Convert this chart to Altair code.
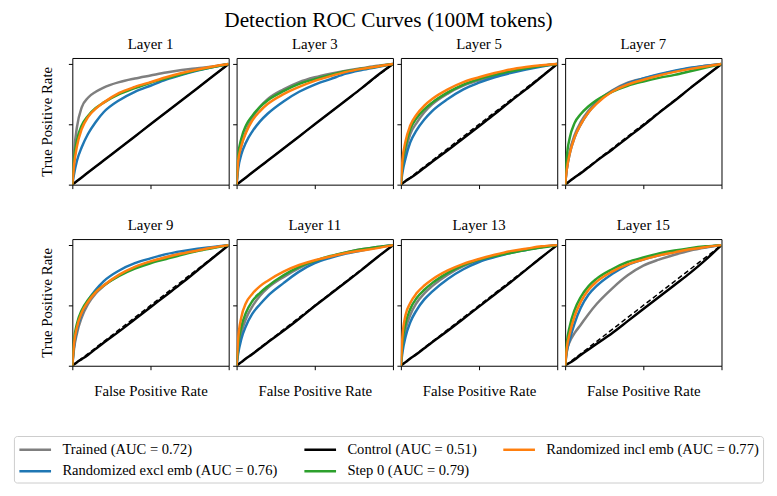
import altair as alt
import pandas as pd

LAYERS = ["Layer 1", "Layer 3", "Layer 5", "Layer 7", "Layer 9", "Layer 11", "Layer 13", "Layer 15"]
FPR = [0, 0.01, 0.03, 0.06, 0.1, 0.15, 0.2, 0.3, 0.4, 0.5, 0.6, 0.7, 0.8, 0.9, 1.0]

S_TRAINED = "Trained (AUC = 0.72)"
S_EXCL = "Randomized excl emb (AUC = 0.76)"
S_CONTROL = "Control (AUC = 0.51)"
S_STEP0 = "Step 0 (AUC = 0.79)"
S_INCL = "Randomized incl emb (AUC = 0.77)"

trained_tpr = {
    "Layer 1": [0, 0.25, 0.48, 0.64, 0.72, 0.77, 0.805, 0.85, 0.88, 0.905, 0.93, 0.95, 0.965, 0.98, 1],
    "Layer 3": [0, 0.18, 0.32, 0.44, 0.55, 0.645, 0.71, 0.79, 0.85, 0.89, 0.92, 0.945, 0.965, 0.985, 1],
    "Layer 5": [0, 0.14, 0.28, 0.42, 0.51, 0.60, 0.665, 0.755, 0.82, 0.865, 0.905, 0.94, 0.965, 0.985, 1],
    "Layer 7": [0, 0.13, 0.28, 0.41, 0.52, 0.615, 0.685, 0.78, 0.845, 0.88, 0.91, 0.94, 0.965, 0.985, 1],
    "Layer 9": [0, 0.13, 0.27, 0.40, 0.51, 0.60, 0.66, 0.75, 0.815, 0.86, 0.90, 0.93, 0.955, 0.98, 1],
    "Layer 11": [0, 0.13, 0.27, 0.39, 0.49, 0.58, 0.645, 0.735, 0.81, 0.865, 0.905, 0.94, 0.965, 0.985, 1],
    "Layer 13": [0, 0.15, 0.30, 0.42, 0.52, 0.60, 0.66, 0.755, 0.825, 0.875, 0.91, 0.94, 0.965, 0.985, 1],
    "Layer 15": [0, 0.12, 0.20, 0.27, 0.34, 0.43, 0.51, 0.64, 0.75, 0.83, 0.88, 0.92, 0.955, 0.98, 1],
}
excl_tpr = {
    "Layer 1": [0, 0.08, 0.20, 0.31, 0.42, 0.52, 0.60, 0.70, 0.77, 0.82, 0.87, 0.91, 0.945, 0.975, 1],
    "Layer 3": [0, 0.13, 0.25, 0.35, 0.44, 0.525, 0.59, 0.69, 0.77, 0.83, 0.875, 0.92, 0.95, 0.975, 1],
    "Layer 5": [0, 0.10, 0.22, 0.35, 0.45, 0.54, 0.61, 0.71, 0.79, 0.845, 0.89, 0.925, 0.955, 0.98, 1],
    "Layer 7": [0, 0.12, 0.26, 0.39, 0.50, 0.60, 0.675, 0.775, 0.84, 0.88, 0.915, 0.945, 0.97, 0.985, 1],
    "Layer 9": [0, 0.15, 0.30, 0.43, 0.54, 0.63, 0.70, 0.79, 0.85, 0.89, 0.925, 0.95, 0.97, 0.985, 1],
    "Layer 11": [0, 0.10, 0.22, 0.33, 0.43, 0.51, 0.58, 0.685, 0.78, 0.85, 0.895, 0.93, 0.955, 0.98, 1],
    "Layer 13": [0, 0.11, 0.24, 0.36, 0.46, 0.55, 0.615, 0.72, 0.80, 0.86, 0.90, 0.935, 0.96, 0.985, 1],
    "Layer 15": [0, 0.11, 0.22, 0.35, 0.48, 0.59, 0.66, 0.76, 0.835, 0.88, 0.915, 0.945, 0.97, 0.985, 1],
}
step0_tpr = {
    "Layer 1": [0, 0.20, 0.37, 0.49, 0.57, 0.635, 0.68, 0.75, 0.80, 0.845, 0.88, 0.915, 0.95, 0.975, 1],
    "Layer 3": [0, 0.24, 0.38, 0.49, 0.57, 0.645, 0.70, 0.775, 0.835, 0.875, 0.91, 0.94, 0.96, 0.98, 1],
    "Layer 5": [0, 0.17, 0.32, 0.46, 0.55, 0.625, 0.68, 0.765, 0.83, 0.875, 0.91, 0.94, 0.965, 0.985, 1],
    "Layer 7": [0, 0.22, 0.39, 0.51, 0.585, 0.65, 0.70, 0.77, 0.82, 0.855, 0.885, 0.91, 0.94, 0.97, 1],
    "Layer 9": [0, 0.20, 0.35, 0.46, 0.545, 0.615, 0.665, 0.745, 0.805, 0.85, 0.885, 0.92, 0.95, 0.975, 1],
    "Layer 11": [0, 0.17, 0.32, 0.44, 0.535, 0.605, 0.66, 0.75, 0.82, 0.87, 0.91, 0.94, 0.965, 0.985, 1],
    "Layer 13": [0, 0.19, 0.35, 0.47, 0.56, 0.63, 0.685, 0.77, 0.835, 0.88, 0.91, 0.935, 0.96, 0.98, 1],
    "Layer 15": [0, 0.18, 0.33, 0.46, 0.57, 0.66, 0.72, 0.80, 0.86, 0.897, 0.93, 0.955, 0.975, 0.99, 1],
}
incl_tpr = {
    "Layer 1": [0, 0.15, 0.32, 0.46, 0.56, 0.63, 0.68, 0.76, 0.81, 0.85, 0.89, 0.925, 0.955, 0.98, 1],
    "Layer 3": [0, 0.19, 0.32, 0.43, 0.53, 0.61, 0.67, 0.75, 0.81, 0.86, 0.90, 0.935, 0.96, 0.98, 1],
    "Layer 5": [0, 0.20, 0.36, 0.49, 0.58, 0.655, 0.71, 0.79, 0.85, 0.89, 0.925, 0.955, 0.975, 0.99, 1],
    "Layer 7": [0, 0.12, 0.26, 0.39, 0.50, 0.60, 0.67, 0.77, 0.83, 0.87, 0.905, 0.935, 0.96, 0.98, 1],
    "Layer 9": [0, 0.17, 0.32, 0.44, 0.53, 0.61, 0.665, 0.755, 0.82, 0.865, 0.90, 0.93, 0.955, 0.98, 1],
    "Layer 11": [0, 0.22, 0.40, 0.52, 0.595, 0.66, 0.705, 0.78, 0.835, 0.875, 0.905, 0.935, 0.955, 0.975, 1],
    "Layer 13": [0, 0.24, 0.42, 0.52, 0.60, 0.665, 0.715, 0.79, 0.845, 0.885, 0.92, 0.95, 0.97, 0.99, 1],
    "Layer 15": [0, 0.14, 0.27, 0.41, 0.53, 0.63, 0.695, 0.78, 0.84, 0.88, 0.915, 0.94, 0.965, 0.985, 1],
}
control_tpr = {
    "Layer 1": [0, 0.01, 0.03, 0.06, 0.10, 0.15, 0.20, 0.30, 0.40, 0.50, 0.60, 0.70, 0.80, 0.90, 1],
    "Layer 3": [0, 0.01, 0.03, 0.06, 0.10, 0.15, 0.20, 0.30, 0.40, 0.50, 0.60, 0.70, 0.80, 0.905, 1],
    "Layer 5": [0, 0.01, 0.03, 0.055, 0.09, 0.14, 0.19, 0.285, 0.385, 0.485, 0.585, 0.69, 0.79, 0.895, 1],
    "Layer 7": [0, 0.01, 0.03, 0.06, 0.095, 0.145, 0.195, 0.29, 0.39, 0.49, 0.595, 0.695, 0.80, 0.90, 1],
    "Layer 9": [0, 0.01, 0.03, 0.055, 0.09, 0.14, 0.19, 0.285, 0.385, 0.485, 0.585, 0.685, 0.79, 0.895, 1],
    "Layer 11": [0, 0.01, 0.03, 0.06, 0.095, 0.145, 0.195, 0.29, 0.39, 0.495, 0.595, 0.695, 0.795, 0.90, 1],
    "Layer 13": [0, 0.01, 0.03, 0.06, 0.095, 0.145, 0.195, 0.29, 0.39, 0.49, 0.59, 0.69, 0.795, 0.90, 1],
    "Layer 15": [0, 0.01, 0.025, 0.05, 0.09, 0.135, 0.18, 0.27, 0.37, 0.47, 0.57, 0.67, 0.77, 0.88, 1],
}
DIAG = [0, 1]

# legend order (filled column by column, 3 columns) and colours
LEGEND_ORDER = [S_TRAINED, S_EXCL, S_CONTROL, S_STEP0, S_INCL]
LEGEND_COLORS = ["#7f7f7f", "#1f77b4", "#000000", "#2ca02c", "#ff7f0e"]
DRAW_ORDER = [S_TRAINED, S_EXCL, S_CONTROL, S_STEP0, S_INCL]

series_data = {
    S_TRAINED: trained_tpr,
    S_EXCL: excl_tpr,
    S_CONTROL: control_tpr,
    S_STEP0: step0_tpr,
    S_INCL: incl_tpr,
}

rows = []
for s, d in series_data.items():
    for layer in LAYERS:
        for f, t in zip(FPR, d[layer]):
            rows.append({"layer": layer, "series": s, "fpr": f, "tpr": t})
df = pd.DataFrame(rows)
diag_df = pd.DataFrame({"fpr": DIAG, "tpr": DIAG})

FONT = "Liberation Serif"
W, H = 158, 128

xscale = alt.Scale(domain=[0, 1], nice=False, zero=False)
yscale = alt.Scale(domain=[0, 1.05], nice=False, zero=False)

legend = alt.Legend(
    title=None, orient="none", legendX=-59, legendY=382, columns=3,
    symbolType="M-1,0L3,0", symbolSize=256, symbolStrokeWidth=2.5,
    labelFont=FONT, labelFontSize=14.7, labelColor="black", labelOffset=26,
    labelLimit=400, columnPadding=21, rowPadding=5, padding=4,
    strokeColor="#cccccc", cornerRadius=3, fillColor="white",
)
color = alt.Color("series:N", scale=alt.Scale(domain=LEGEND_ORDER, range=LEGEND_COLORS), legend=legend)


def panel(i, layer):
    r, c = divmod(i, 4)
    xax = dict(values=[0, 0.5, 1], labels=False, domain=False, grid=False, tickSize=4)
    yax = dict(values=[0, 0.5, 1], labels=False, domain=False, grid=False, tickSize=4)
    if r == 1:
        xax.update(title="False Positive Rate", titlePadding=14)
    else:
        xax.update(title=None)
    if c == 0:
        yax.update(title="True Positive Rate", titlePadding=14)
    else:
        yax.update(title=None)
    X = alt.X("fpr:Q", scale=xscale, axis=alt.Axis(**xax))
    Y = alt.Y("tpr:Q", scale=yscale, axis=alt.Axis(**yax))
    base = alt.Chart(df).transform_filter(alt.datum.layer == layer)
    marks = []
    for s in DRAW_ORDER:
        marks.append(
            base.transform_filter(alt.datum.series == s)
            .mark_line(strokeWidth=2.5, clip=True, interpolate="monotone")
            .encode(x=X, y=Y, color=color)
        )
        if s == S_CONTROL:
            marks.append(
                alt.Chart(diag_df).mark_line(strokeWidth=1.5, strokeDash=[5, 3], color="black", clip=True)
                .encode(x=X, y=Y)
            )
    return alt.layer(*marks).properties(
        width=W, height=H,
        title=alt.TitleParams(layer, offset=6),
    )


panels = [panel(i, l) for i, l in enumerate(LAYERS)]
row1 = alt.hconcat(*panels[:4], spacing=8, bounds="flush")
row2 = alt.hconcat(*panels[4:], spacing=8, bounds="flush")

chart = (
    alt.vconcat(row1, row2, spacing=28)
    .resolve_scale(color="shared")
    .properties(
        title=alt.TitleParams("Detection ROC Curves (100M tokens)", fontSize=21.5, anchor="middle", offset=5),
        padding={"left": 5, "top": 0, "right": 5, "bottom": 0},
    )
    .configure_view(stroke="black", strokeWidth=1)
    .configure_axis(tickColor="black", tickWidth=1, titleFont=FONT, titleFontSize=15,
                    titleFontWeight="normal", titleColor="black")
    .configure_title(font=FONT, fontSize=15, fontWeight="normal", color="black")
)

chart.save("out.html", embed_options={"renderer": "svg", "actions": False})
